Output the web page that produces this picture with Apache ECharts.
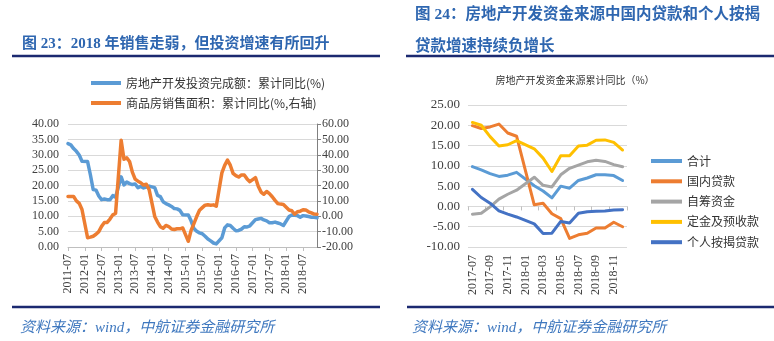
<!DOCTYPE html>
<html>
<head>
<meta charset="utf-8">
<script src="https://cdn.jsdelivr.net/npm/echarts@6/dist/echarts.min.js"></script>
<style>
html,body{margin:0;padding:0;background:#fff;}
#c{width:774px;height:341px;}
</style>
</head>
<body>
<div id="c"></div>
<script>
// ---- Figure 23: monthly, 2011-07 .. 2018-12 (January folded into Jan–Feb, left empty) ----
function monthRange(y0, m0, y1, m1) {
  var out = [];
  for (var y = y0, m = m0; y < y1 || (y === y1 && m <= m1); ) {
    out.push(y + '-' + (m < 10 ? '0' + m : m));
    m++; if (m > 12) { m = 1; y++; }
  }
  return out;
}
var invMonths = monthRange(2011, 7, 2018, 12);

// 房地产开发投资完成额：累计同比 (%)
var investYoY = [
  33.6, 33.2, 32.0, 31.1, 29.9, 27.9,
  null, 27.8, 23.5, 18.7, 18.5, 16.6, 15.4, 15.6, 15.4, 15.4, 16.7, 16.2,
  null, 22.8, 20.2, 21.1, 20.6, 20.3, 20.5, 19.3, 19.7, 19.2, 19.5, 19.8,
  null, 19.3, 16.8, 16.4, 14.7, 14.1, 13.7, 13.2, 12.5, 12.4, 11.9, 10.5,
  null, 10.4, 8.5, 6.0, 5.1, 4.6, 4.3, 3.5, 2.6, 2.0, 1.3, 1.0,
  null, 3.0, 6.2, 7.2, 7.0, 6.1, 5.3, 5.4, 5.8, 6.6, 6.5, 6.9,
  null, 8.9, 9.1, 9.3, 8.8, 8.5, 7.9, 7.9, 8.1, 7.8, 7.5, 7.0,
  null, 9.9, 10.4, 10.3, 10.2, 9.7, 10.2, 10.1, 9.9, 9.7, 9.7, 9.5
];

// 商品房销售面积：累计同比 (%, 右轴)
var salesYoY = [
  12.9, 12.9, 12.9, 10.0, 8.4, 4.4,
  null, -14.0, -13.6, -13.0, -11.7, -10.0, -6.6, -4.1, -4.0, -1.8, 0.9, 1.8,
  null, 49.5, 37.1, 38.0, 35.6, 28.7, 24.1, 22.8, 21.8, 20.3, 20.8, 17.3,
  null, -0.1, -3.8, -6.8, -7.8, -6.0, -6.7, -8.3, -8.6, -8.1, -8.2, -7.6,
  null, -16.3, -9.2, -4.8, -0.2, 3.9, 5.6, 7.2, 7.5, 7.2, 7.4, 6.5,
  null, 28.2, 33.1, 36.5, 33.2, 27.9, 26.4, 25.5, 26.9, 26.8, 24.3, 22.5,
  null, 25.1, 19.5, 15.7, 14.3, 16.1, 14.7, 12.7, 10.3, 8.2, 7.9, 7.7,
  null, 4.1, 3.6, 1.3, 2.9, 3.3, 4.2, 4.0, 2.9, 2.2, 1.4, 1.3
];

// ---- Figure 24: funding sources, cumulative YoY (%) ----
var fundMonths = ['2017-07', '2017-08', '2017-09', '2017-10', '2017-11', '2017-12',
  '2018-01', '2018-02', '2018-03', '2018-04', '2018-05', '2018-06',
  '2018-07', '2018-08', '2018-09', '2018-10', '2018-11', '2018-12'];
var fundTotal    = [9.8, 9.0, 8.1, 7.4, 7.7, 8.4, null, 5.1, 3.8, 2.1, 5.0, 4.5, 6.4, 7.0, 7.8, 7.8, 7.6, 6.4];
var domesticLoan = [19.9, 19.2, 19.6, 20.3, 18.1, 17.3, null, 0.4, 0.8, -1.8, -3.0, -7.9, -7.0, -6.6, -5.3, -5.3, -3.9, -5.0];
var selfRaised   = [-1.9, -1.7, -0.1, 1.8, 3.0, 4.0, null, 7.2, 5.2, 4.8, 7.8, 9.4, 10.2, 11.0, 11.4, 11.1, 10.3, 9.8];
var deposits     = [20.7, 20.0, 17.2, 14.9, 15.2, 16.2, null, 14.2, 11.9, 8.6, 12.5, 12.5, 14.9, 15.1, 16.3, 16.4, 15.8, 13.9];
var mortgage     = [4.2, 2.2, 0.8, -1.1, -1.9, -2.6, null, -4.3, -6.7, -6.6, -3.7, -4.1, -1.7, -1.3, -1.2, -1.1, -0.9, -0.8];

var leftNames = ['房地产开发投资完成额：累计同比(%)', '商品房销售面积：累计同比(%,右轴)'];
var rightNames = ['合计', '国内贷款', '自筹资金', '定金及预收款', '个人按揭贷款'];

var SERIF = '"Liberation Serif", "Noto Sans CJK SC", serif';
var CJK = '"Noto Sans CJK SC", sans-serif';
var HEAD = '#2e66b0';
var RULE = '#1b2970';
var GRID = '#d9d9d9';
var TXT = '#404040';

function fmt2(v) { return v.toFixed(2); }

function lineSeries(name, data, color, width, xi, yi) {
  return {
    name: name, type: 'line', data: data, xAxisIndex: xi, yAxisIndex: yi,
    symbol: 'none', connectNulls: true, color: color,
    lineStyle: { width: width, color: color, cap: 'round', join: 'round' },
    emphasis: { disabled: true }
  };
}

var chart = echarts.init(document.getElementById('c'));
chart.setOption({
  animation: false,
  grid: [
    { left: 68, top: 124, width: 249, height: 123 },
    { left: 468, top: 105, width: 159, height: 142 }
  ],
  legend: [
    {
      data: leftNames, orient: 'vertical', left: 86, top: 71,
      icon: 'rect', itemWidth: 30, itemHeight: 4, itemGap: 6,
      textStyle: { fontFamily: CJK, fontSize: 12, color: '#333', lineHeight: 14 }
    },
    {
      data: rightNames, orient: 'vertical', left: 646, top: 149,
      icon: 'rect', itemWidth: 31, itemHeight: 4, itemGap: 6.3,
      textStyle: { fontFamily: CJK, fontSize: 12, color: '#333', lineHeight: 14 }
    }
  ],
  xAxis: [
    {
      gridIndex: 0, type: 'category', data: invMonths, boundaryGap: false,
      axisLine: { lineStyle: { color: '#bfbfbf' } },
      axisTick: { interval: 5, length: 4, lineStyle: { color: '#bfbfbf' } },
      axisLabel: { interval: 5, rotate: 90, margin: 7, fontFamily: SERIF, fontSize: 12, color: TXT },
      splitLine: { show: false }
    },
    {
      gridIndex: 1, type: 'category', data: fundMonths, boundaryGap: true, position: 'bottom',
      axisLine: { show: false, onZero: false },
      axisTick: { show: false },
      axisLabel: { interval: 1, rotate: 90, margin: 8, fontFamily: SERIF, fontSize: 12, color: TXT },
      splitLine: { show: false }
    },
    {
      gridIndex: 1, type: 'category', data: fundMonths, boundaryGap: true, position: 'bottom',
      axisLine: { show: true, onZero: true, lineStyle: { color: GRID } },
      axisTick: { show: true, interval: 1, length: 4, lineStyle: { color: '#bfbfbf' } },
      axisLabel: { show: false },
      splitLine: { show: false }
    }
  ],
  yAxis: [
    {
      gridIndex: 0, type: 'value', min: 0, max: 40, interval: 5, position: 'left',
      axisLine: { show: false }, axisTick: { show: false },
      splitLine: { lineStyle: { color: GRID } },
      axisLabel: { formatter: fmt2, margin: 9, fontFamily: SERIF, fontSize: 12, color: TXT }
    },
    {
      gridIndex: 0, type: 'value', min: -20, max: 60, interval: 10, position: 'right',
      axisLine: { show: true, lineStyle: { color: '#808080' } },
      axisTick: { show: true, length: 4, lineStyle: { color: '#808080' } },
      splitLine: { show: false },
      axisLabel: { formatter: fmt2, margin: 5, fontFamily: SERIF, fontSize: 12, color: TXT }
    },
    {
      gridIndex: 1, type: 'value', min: -10, max: 25, interval: 5,
      axisLine: { show: false }, axisTick: { show: false },
      splitLine: { lineStyle: { color: GRID } },
      axisLabel: { formatter: fmt2, margin: 8, fontFamily: SERIF, fontSize: 13, color: TXT }
    }
  ],
  series: [
    lineSeries(leftNames[0], investYoY, '#5b9bd5', 3.5, 0, 0),
    lineSeries(leftNames[1], salesYoY, '#ed7d31', 3.5, 0, 1),
    lineSeries(rightNames[0], fundTotal, '#5b9bd5', 3, 1, 2),
    lineSeries(rightNames[1], domesticLoan, '#ed7d31', 3, 1, 2),
    lineSeries(rightNames[2], selfRaised, '#a5a5a5', 3, 1, 2),
    lineSeries(rightNames[3], deposits, '#ffc000', 3, 1, 2),
    lineSeries(rightNames[4], mortgage, '#4472c4', 3, 1, 2)
  ],
  graphic: [
    { type: 'text', x: 22, y: 44, silent: true,
      style: { text: '图 23：2018 年销售走弱，但投资增速有所回升', font: 'bold 15px ' + SERIF, fill: HEAD, verticalAlign: 'middle' } },
    { type: 'line', silent: true, shape: { x1: 12, y1: 56, x2: 380, y2: 56 }, style: { stroke: RULE, lineWidth: 2.5 } },
    { type: 'text', x: 415, y: 15, silent: true,
      style: { text: '图 24：房地产开发资金来源中国内贷款和个人按揭', font: 'bold 15.5px ' + SERIF, fill: HEAD, verticalAlign: 'middle' } },
    { type: 'text', x: 415, y: 47, silent: true,
      style: { text: '贷款增速持续负增长', font: 'bold 15.5px ' + SERIF, fill: HEAD, verticalAlign: 'middle' } },
    { type: 'line', silent: true, shape: { x1: 406, y1: 56, x2: 774, y2: 56 }, style: { stroke: RULE, lineWidth: 2.5 } },
    { type: 'text', x: 575, y: 80, silent: true,
      style: { text: '房地产开发资金来源累计同比（%）', font: '10px ' + CJK, fill: '#333', align: 'center', verticalAlign: 'middle' } },
    { type: 'line', silent: true, shape: { x1: 12, y1: 307, x2: 380, y2: 307 }, style: { stroke: RULE, lineWidth: 2.5 } },
    { type: 'line', silent: true, shape: { x1: 407, y1: 307, x2: 774, y2: 307 }, style: { stroke: RULE, lineWidth: 2.5 } },
    { type: 'text', x: 20, y: 328, silent: true,
      style: { text: '资料来源：wind，中航证券金融研究所', font: 'italic 15px ' + SERIF, fill: '#3f78bf', verticalAlign: 'middle' } },
    { type: 'text', x: 412, y: 328, silent: true,
      style: { text: '资料来源：wind，中航证券金融研究所', font: 'italic 15px ' + SERIF, fill: '#3f78bf', verticalAlign: 'middle' } }
  ]
});
</script>
</body>
</html>
